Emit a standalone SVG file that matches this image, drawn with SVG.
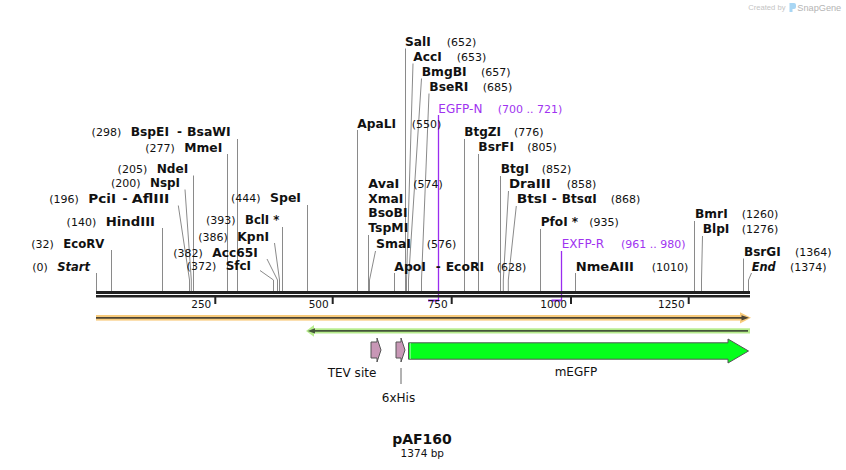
<svg xmlns="http://www.w3.org/2000/svg" width="846" height="470" viewBox="0 0 846 470">
<style>
text{font-family:"DejaVu Sans","Liberation Sans",sans-serif;fill:#111}
.en{font-size:12px;font-weight:bold}
.ei{font-size:12px;font-weight:bold;font-style:italic}
.nu{font-size:11px}
.pn{font-size:12px;fill:#a033f0}
.pp{font-size:11px;fill:#a033f0}
.tk{font-size:10.5px}
.fl{font-size:12px}
.ld{fill:none;stroke:#8a8a8a;stroke-width:1}
.pl{fill:none;stroke:#9a2cf0;stroke-width:1.3}
.ft{fill:#c897b6;stroke:#555;stroke-width:1}
</style>
<defs/>
<rect width="846" height="470" fill="#fff"/>
<g id="credit">
<text x="748.3" y="10" style="font-family:'Liberation Sans',sans-serif;font-size:7.6px;fill:#c4c4c4">Created by</text>
<path d="M789.5 3 h4.5 q2 0 2 2 v2 q0 2 -2 2 h-1.5 v3 h-3 z" fill="#a8d6f4"/>
<text x="797.3" y="10.5" style="font-family:'Liberation Sans',sans-serif;font-size:9.2px;fill:#b4b4b4">SnapGene</text>
</g>
<g id="connectors">
<path class="ld" d="M96.5 273V291M111.5 250V291M162.5 228V291M193.5 175.5V291M227.5 154V291M237.5 139V291M282.5 227V291M307.5 205V291"/>
<path class="ld" d="M178.3 205.5L189.5 280V291M185 189.5L191.3 280V291M274.5 243L279.5 280V291M267 259L277.5 280V291M260 270.5L273.5 280V291"/>
<path class="ld" d="M357.5 130V291M405.5 48.5V291M368.5 235V291M394.5 273V291M464.5 139V291M478.5 154V291M500.5 176V291M540.5 229V291M575.5 273V291M694.5 221V291M743.5 258.5V291"/>
<path class="ld" d="M413 63.5L406.5 280V291M421.5 78.5L408.5 280V291M429 93.5L421.5 280V291M375.5 251L369.5 280V291M508.5 191L503.3 280V291M516.3 206L508.3 280V291M702.5 236L701.5 280V291M751.5 273L748.5 280V291"/>
<path class="pl" d="M438.5 115V301M561.5 251V301"/>
<path d="M428 300.6H439M551.5 300.6H562" stroke="#9a2cf0" stroke-width="2" fill="none"/>
</g>
<g id="backbone">
<rect x="96" y="291" width="654" height="3" fill="#222"/>
<rect x="96" y="295" width="654" height="2.5" fill="#222"/>
<g fill="#222">
<rect x="214.3" y="297" width="2" height="7"/>
<rect x="331.7" y="297" width="2" height="7"/>
<rect x="450.7" y="297" width="2" height="7"/>
<rect x="570" y="297" width="2" height="7"/>
<rect x="687.7" y="297" width="2" height="7"/>
</g>
<text class="tk" x="211.3" y="307.5" text-anchor="end">250</text>
<text class="tk" x="328.7" y="307.5" text-anchor="end">500</text>
<text class="tk" x="447.7" y="307.5" text-anchor="end">750</text>
<text class="tk" x="567" y="307.5" text-anchor="end">1000</text>
<text class="tk" x="684.7" y="307.5" text-anchor="end">1250</text>
</g>
<g id="e-start"><text class="nu" x="47.8" y="270.7" text-anchor="end">(0)</text><text class="ei" x="57.3" y="270.7" textLength="32.7" lengthAdjust="spacingAndGlyphs">Start</text></g>
<g id="e-ecorv"><text class="nu" x="53.8" y="247.7" text-anchor="end">(32)</text><text class="en" x="63.3" y="247.7" textLength="41" lengthAdjust="spacingAndGlyphs">EcoRV</text></g>
<g id="e-hindiii"><text class="nu" x="96.2" y="225.7" text-anchor="end">(140)</text><text class="en" x="105.7" y="225.7" textLength="49.3" lengthAdjust="spacingAndGlyphs">HindIII</text></g>
<g id="e-pcii"><text class="nu" x="78.8" y="203.3" text-anchor="end">(196)</text><text class="en" x="88.3" y="203.3" textLength="27.7" lengthAdjust="spacingAndGlyphs">PciI</text><text class="en" x="125" y="203.3" text-anchor="middle">-</text><text class="en" x="131.7" y="203.3" textLength="37.6" lengthAdjust="spacingAndGlyphs">AflIII</text></g>
<g id="e-nspi"><text class="nu" x="140.5" y="187.3" text-anchor="end">(200)</text><text class="en" x="150" y="187.3" textLength="30" lengthAdjust="spacingAndGlyphs">NspI</text></g>
<g id="e-ndei"><text class="nu" x="147.2" y="173" text-anchor="end">(205)</text><text class="en" x="156.7" y="173" textLength="31.6" lengthAdjust="spacingAndGlyphs">NdeI</text></g>
<g id="e-mmei"><text class="nu" x="174.8" y="151.7" text-anchor="end">(277)</text><text class="en" x="184.3" y="151.7" textLength="38" lengthAdjust="spacingAndGlyphs">MmeI</text></g>
<g id="e-bspei"><text class="nu" x="121.2" y="136" text-anchor="end">(298)</text><text class="en" x="130.7" y="136" textLength="38.3" lengthAdjust="spacingAndGlyphs">BspEI</text><text class="en" x="179.5" y="136" text-anchor="middle">-</text><text class="en" x="187" y="136" textLength="43.7" lengthAdjust="spacingAndGlyphs">BsaWI</text></g>
<g id="e-sfci"><text class="nu" x="216.2" y="270" text-anchor="end">(372)</text><text class="en" x="225.7" y="270" textLength="25.3" lengthAdjust="spacingAndGlyphs">SfcI</text></g>
<g id="e-acc65i"><text class="nu" x="202.8" y="256.7" text-anchor="end">(382)</text><text class="en" x="212.3" y="256.7" textLength="45.4" lengthAdjust="spacingAndGlyphs">Acc65I</text></g>
<g id="e-kpni"><text class="nu" x="227.8" y="240.7" text-anchor="end">(386)</text><text class="en" x="237.3" y="240.7" textLength="31.7" lengthAdjust="spacingAndGlyphs">KpnI</text></g>
<g id="e-bcli"><text class="nu" x="235.5" y="224.3" text-anchor="end">(393)</text><text class="en" x="245" y="224.3" textLength="34.3" lengthAdjust="spacingAndGlyphs">BclI *</text></g>
<g id="e-spei"><text class="nu" x="260.5" y="202.3" text-anchor="end">(444)</text><text class="en" x="270" y="202.3" textLength="31" lengthAdjust="spacingAndGlyphs">SpeI</text></g>
<g id="e-apali"><text class="en" x="357.3" y="127.7" textLength="38.7" lengthAdjust="spacingAndGlyphs">ApaLI</text><text class="nu" x="411.7" y="127.7">(550)</text></g>
<g id="e-sali"><text class="en" x="405" y="45.7" textLength="25.7" lengthAdjust="spacingAndGlyphs">SalI</text><text class="nu" x="446.7" y="45.7">(652)</text></g>
<g id="e-acci"><text class="en" x="413.3" y="60.7" textLength="28.4" lengthAdjust="spacingAndGlyphs">AccI</text><text class="nu" x="456.7" y="60.7">(653)</text></g>
<g id="e-bmgbi"><text class="en" x="421.7" y="75.7" textLength="45" lengthAdjust="spacingAndGlyphs">BmgBI</text><text class="nu" x="481" y="75.7">(657)</text></g>
<g id="e-beseri"><text class="en" x="429.3" y="90.7" textLength="39" lengthAdjust="spacingAndGlyphs">BseRI</text><text class="nu" x="482.7" y="90.7">(685)</text></g>
<g id="p-egfpn"><text class="pn" x="438.3" y="112.7">EGFP-N</text><text class="pp" x="497.7" y="112.7">(700 .. 721)</text></g>
<g id="e-avai"><text class="en" x="368.3" y="187.7" textLength="31" lengthAdjust="spacingAndGlyphs">AvaI</text><text class="nu" x="413.3" y="187.7">(574)</text><text class="en" x="368.3" y="202.7" textLength="35" lengthAdjust="spacingAndGlyphs">XmaI</text><text class="en" x="368.3" y="217.3" textLength="39.3" lengthAdjust="spacingAndGlyphs">BsoBI</text><text class="en" x="368.3" y="232.3" textLength="40" lengthAdjust="spacingAndGlyphs">TspMI</text></g>
<g id="e-smai"><text class="en" x="376" y="248.3" textLength="35" lengthAdjust="spacingAndGlyphs">SmaI</text><text class="nu" x="426.7" y="248.3">(576)</text></g>
<g id="e-apoi"><text class="en" x="394.3" y="270.7" textLength="31.7" lengthAdjust="spacingAndGlyphs">ApoI</text><text class="en" x="438.3" y="270.7" text-anchor="middle">-</text><text class="en" x="445.7" y="270.7" textLength="38.3" lengthAdjust="spacingAndGlyphs">EcoRI</text><text class="nu" x="496.7" y="270.7">(628)</text></g>
<g id="e-btgzi"><text class="en" x="464.3" y="136" textLength="36.7" lengthAdjust="spacingAndGlyphs">BtgZI</text><text class="nu" x="514" y="136">(776)</text></g>
<g id="e-bsrfi"><text class="en" x="478.3" y="151" textLength="35.7" lengthAdjust="spacingAndGlyphs">BsrFI</text><text class="nu" x="527.3" y="151">(805)</text></g>
<g id="e-btgi"><text class="en" x="500.7" y="173.3" textLength="28.3" lengthAdjust="spacingAndGlyphs">BtgI</text><text class="nu" x="541.7" y="173.3">(852)</text></g>
<g id="e-draiii"><text class="en" x="509" y="188.3" textLength="41.7" lengthAdjust="spacingAndGlyphs">DraIII</text><text class="nu" x="566.7" y="188.3">(858)</text></g>
<g id="e-btsi"><text class="en" x="516.7" y="203.3" textLength="30.6" lengthAdjust="spacingAndGlyphs">BtsI</text><text class="en" x="554.3" y="203.3" text-anchor="middle">-</text><text class="en" x="561.7" y="203.3" textLength="35" lengthAdjust="spacingAndGlyphs">BtsαI</text><text class="nu" x="610.7" y="203.3">(868)</text></g>
<g id="e-pfoi"><text class="en" x="540.7" y="226" textLength="37.5" lengthAdjust="spacingAndGlyphs">PfoI *</text><text class="nu" x="589.3" y="226">(935)</text></g>
<g id="p-exfpr"><text class="pn" x="561.7" y="248.3">EXFP-R</text><text class="pp" x="621" y="248.3">(961 .. 980)</text></g>
<g id="e-nmeaiii"><text class="en" x="575.7" y="270.7" textLength="58.3" lengthAdjust="spacingAndGlyphs">NmeAIII</text><text class="nu" x="651.7" y="270.7">(1010)</text></g>
<g id="e-bmri"><text class="en" x="695" y="218.3" textLength="32.7" lengthAdjust="spacingAndGlyphs">BmrI</text><text class="nu" x="741.7" y="218.3">(1260)</text></g>
<g id="e-blpi"><text class="en" x="702.7" y="233.3" textLength="26.7" lengthAdjust="spacingAndGlyphs">BlpI</text><text class="nu" x="741.7" y="233.3">(1276)</text></g>
<g id="e-bsrgi"><text class="en" x="744" y="255.7" textLength="36.7" lengthAdjust="spacingAndGlyphs">BsrGI</text><text class="nu" x="795" y="255.7">(1364)</text></g>
<g id="e-end"><text class="ei" x="751.7" y="270.7" textLength="24" lengthAdjust="spacingAndGlyphs">End</text><text class="nu" x="790" y="270.7">(1374)</text></g>
<g id="f-orange">
<rect x="96" y="315" width="646" height="5.6" fill="#f8cb7c"/>
<path d="M740 312.2L751 317.8L740 323.4Z" fill="#f8cb7c"/>
<path d="M96 317.8H743" stroke="#4d4535" stroke-width="1.8"/>
<path d="M741.5 315.2L749 317.8L741.5 320.4Z" fill="#4d4535"/>
</g>
<g id="f-green">
<rect x="313" y="328.3" width="437" height="5.2" fill="#b6ec8c"/>
<path d="M314 325L306 330.9L314 336.8Z" fill="#b6ec8c"/>
<path d="M312 330.9H748" stroke="#44553a" stroke-width="1.8"/>
<path d="M315 328.2L307.7 330.9L315 333.6Z" fill="#44553a"/>
</g>
<g id="f-tev">
<path class="ft" d="M371 342H377V338L381 350L377 362V358H371Z"/>
<text class="fl" x="352" y="376.5" text-anchor="middle">TEV site</text>
</g>
<g id="f-6xhis">
<path class="ft" d="M396 342H401V338L405 350L401 362V358H396Z"/>
<path d="M401 368V384" stroke="#666" stroke-width="1"/>
<text class="fl" x="398.5" y="402" text-anchor="middle">6xHis</text>
</g>
<g id="f-megfp">
<path d="M408.5 342.8H728V339L748.5 351L728 363V359.2H408.5Z" fill="#05ff1c" stroke="#555" stroke-width="1"/>
<path d="M410.3 343.5V358.5" stroke="#fff" stroke-width="1" stroke-dasharray="1 1"/>
<text class="fl" x="576" y="376" text-anchor="middle">mEGFP</text>
</g>
<g id="title">
<text x="422" y="444" text-anchor="middle" style="font-size:14px;font-weight:bold">pAF160</text>
<text x="422.3" y="457" text-anchor="middle" style="font-size:10.5px">1374 bp</text>
</g>
</svg>
